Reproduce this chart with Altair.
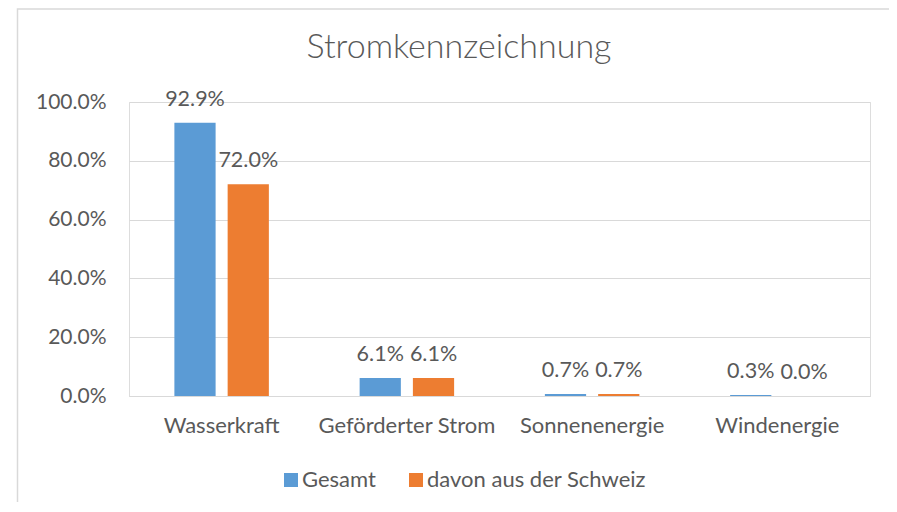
import altair as alt
import pandas as pd

categories = ["Wasserkraft", "Geförderter Strom", "Sonnenenergie", "Windenergie"]
series = ["Gesamt", "davon aus der Schweiz"]
gesamt = [0.929, 0.061, 0.007, 0.003]
schweiz = [0.720, 0.061, 0.007, 0.000]
y_ticks = [0.0, 0.2, 0.4, 0.6, 0.8, 1.0]
colors = ["#5B9BD5", "#ED7D31"]
title_text = "Stromkennzeichnung"

rows = []
for c, g, s in zip(categories, gesamt, schweiz):
    rows.append({"cat": c, "series": series[0], "value": g})
    rows.append({"cat": c, "series": series[1], "value": s})
df = pd.DataFrame(rows)

FONT = "Lato"
GREY = "#595959"
GRID = "#d9d9d9"
W, H = 741, 294

x = alt.X("cat:N", sort=categories, title=None,
          scale=alt.Scale(paddingInner=0.49, paddingOuter=0.245),
          axis=alt.Axis(labelAngle=0, labelFontSize=22, labelColor=GREY, labelFont=FONT,
                        ticks=False, domainColor=GRID, labelPadding=19, grid=False,
                        labelLimit=300))
xo = alt.XOffset("series:N", sort=series, scale=alt.Scale(paddingInner=0.226, paddingOuter=0))
y = alt.Y("value:Q", title=None, scale=alt.Scale(domain=[0, 1]),
          axis=alt.Axis(values=y_ticks, format=".1%", labelFontSize=21, labelColor=GREY,
                        labelFont=FONT, ticks=False, domain=False, gridColor=GRID,
                        labelPadding=23))
color = alt.Color("series:N", sort=series,
                  scale=alt.Scale(domain=series, range=colors),
                  legend=alt.Legend(title=None, orient="none", legendX=151, legendY=367,
                                    direction="horizontal", symbolType="square",
                                    symbolSize=196, symbolStrokeWidth=0,
                                    labelFontSize=22, labelFont=FONT, labelColor=GREY,
                                    labelLimit=400, columnPadding=29, labelOffset=0))

base = alt.Chart(df)
bars = base.mark_bar().encode(x=x, xOffset=xo, y=y, color=color)
labels = base.mark_text(baseline="alphabetic", dy=-17, fontSize=21.5, font=FONT, color=GREY).encode(
    x=x, xOffset=xo, y=y, text=alt.Text("value:Q", format=".1%"))

border = alt.Chart(pd.DataFrame({"b": [0]})).mark_rect(
    fillOpacity=0, stroke=GRID, strokeWidth=1.5).encode(
    x=alt.value(-111.5), x2=alt.value(900), y=alt.value(-93), y2=alt.value(600))

title = alt.Chart(pd.DataFrame({"t": [title_text]})).mark_text(
    fontSize=34, font=FONT, fontWeight=300, color=GREY, baseline="alphabetic",
    align="center").encode(
    x=alt.value(330), y=alt.value(-44), text="t:N")

chart = alt.layer(border, bars, labels, title).properties(
    width=W, height=H,
    autosize=alt.AutoSizeParams(type="none"),
    padding={"left": 121, "top": 94, "right": 19, "bottom": 106},
).configure_view(stroke=None).configure(background="white")

chart.save("out.html", embed_options={"renderer": "svg", "actions": False})
